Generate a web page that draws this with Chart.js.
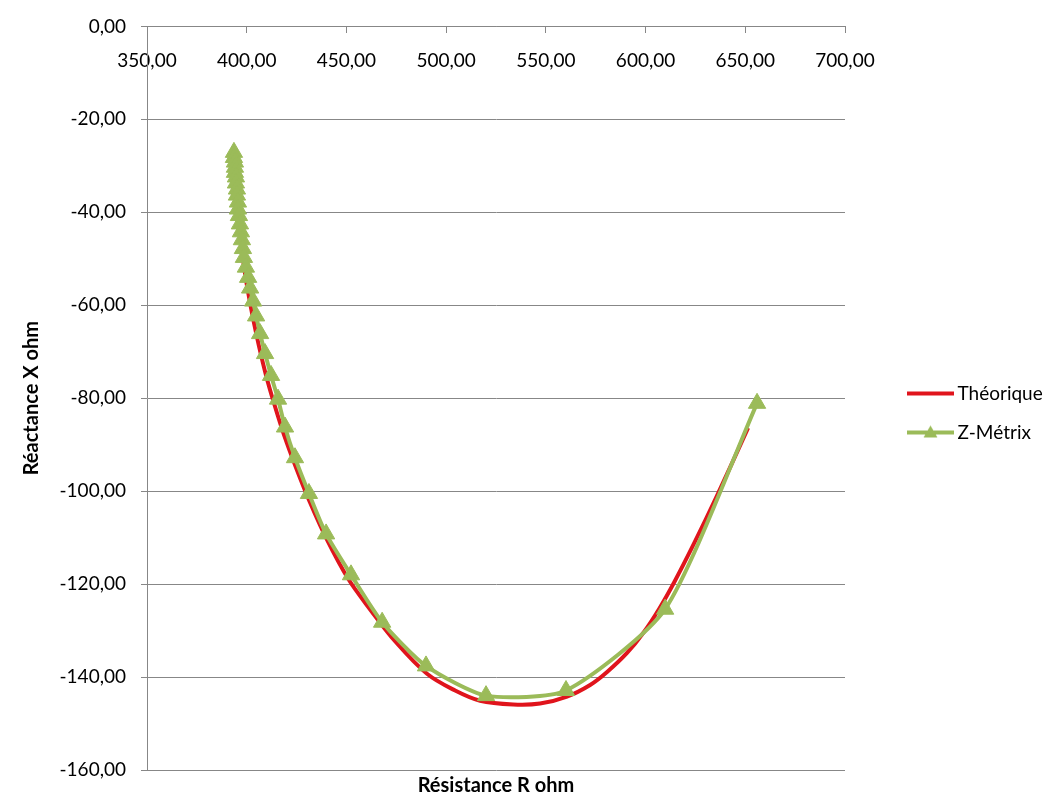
<!DOCTYPE html>
<html>
<head>
<meta charset="utf-8">
<script src="https://cdn.jsdelivr.net/npm/chart.js@4/dist/chart.umd.min.js"></script>
<style>
  html, body { margin: 0; padding: 0; background: #ffffff; }
  #wrap { width: 1062px; height: 798px; }
</style>
</head>
<body>
<div id="wrap"><canvas id="c" width="1062" height="798"></canvas></div>
<script>
// ---- Data ----
const seriesNames = ['Théorique', 'Z-Métrix'];

// Théorique : résistance R (ohm) et réactance X (ohm)
const theoR = [393.6, 394.6, 395.6, 397.1, 398.6, 400.7, 403.2, 406.2, 409.7, 413.7, 418.7, 424.7, 431.7, 440.3, 450.8, 461.8, 474.4, 490.4, 504.5, 517.0, 533.6, 547.1, 560.6, 572.2, 580.7, 590.7, 599.2, 607.0, 614.5, 624.5, 635.5, 651.4];
const theoX = [-26.7, -33.1, -39.5, -45.9, -51.6, -57.2, -62.9, -68.9, -75.1, -81.1, -87.9, -94.9, -102.4, -110.5, -118.8, -125.4, -132.3, -139.3, -142.9, -145.1, -145.9, -145.7, -144.2, -141.7, -138.9, -134.8, -130.3, -125.2, -119.5, -111.1, -101.3, -86.4];

// Z-Métrix : mesures
const zmR = [393.6, 393.6, 394.1, 394.1, 394.1, 394.6, 394.6, 395.1, 395.1, 395.6, 395.6, 396.1, 396.6, 397.1, 397.6, 398.1, 398.6, 399.6, 400.7, 401.7, 403.2, 404.7, 406.7, 409.2, 412.2, 415.7, 419.2, 424.2, 431.2, 439.8, 452.3, 467.9, 489.9, 520.0, 560.1, 609.8, 655.9];
const zmX = [-27.1, -28.2, -29.2, -30.3, -31.4, -32.4, -33.7, -35.0, -36.3, -37.8, -39.3, -40.7, -42.5, -44.2, -45.9, -47.8, -49.7, -51.8, -54.0, -56.3, -59.1, -62.3, -66.1, -70.4, -75.1, -80.2, -86.2, -92.8, -100.5, -109.2, -118.0, -128.2, -137.6, -144.0, -142.9, -125.4, -81.1];

// Tick values and labels
const xTickValues = [350, 400, 450, 500, 550, 600, 650, 700];
const xTickLabels = ['350,00', '400,00', '450,00', '500,00', '550,00', '600,00', '650,00', '700,00'];
const yTickValues = [0, -20, -40, -60, -80, -100, -120, -140, -160];
const yTickLabels = ['0,00', '-20,00', '-40,00', '-60,00', '-80,00', '-100,00', '-120,00', '-140,00', '-160,00'];

const xTitle = 'Résistance R ohm';
const yTitle = 'Réactance X ohm';

// ---- Styles ----
const RED = '#e0141c';
const GREEN = '#9bbb59';
const GRID = '#878787';
const FONT = 'Lato';
const LEG_FONT = 19;

Chart.defaults.font.family = FONT;
Chart.defaults.font.size = 19;
Chart.defaults.color = '#000000';

function toPoints(xs, ys) { return xs.map((v, i) => ({ x: v, y: ys[i] })); }
function lookup(values, labels) {
  return (v) => { const i = values.indexOf(v); return i >= 0 ? labels[i] : ''; };
}

// Legend icons (line, and line + triangle)
const ICON_W = 95, ICON_H = 22, LINE_FROM = 48;
function makeIcon(color, withTriangle) {
  const cv = document.createElement('canvas');
  cv.width = ICON_W; cv.height = ICON_H;
  const g = cv.getContext('2d');
  g.strokeStyle = color; g.lineWidth = 4;
  g.beginPath(); g.moveTo(LINE_FROM, ICON_H / 2); g.lineTo(ICON_W, ICON_H / 2); g.stroke();
  if (withTriangle) {
    const cx = (LINE_FROM + ICON_W) / 2, cy = ICON_H / 2 + 1, r = 8;
    g.fillStyle = color;
    g.beginPath();
    g.moveTo(cx, cy - r);
    g.lineTo(cx + r * 0.866, cy + r * 0.5);
    g.lineTo(cx - r * 0.866, cy + r * 0.5);
    g.closePath(); g.fill();
  }
  return cv;
}
const legendIcons = [makeIcon(RED, false), makeIcon(GREEN, true)];

// legend sizing so that the plot area ends where the reference's does
const meas = document.createElement('canvas').getContext('2d');
meas.font = 'normal ' + LEG_FONT + 'px ' + FONT;
const textW = Math.max(...seriesNames.map(s => meas.measureText(s).width));
const LEG_PAD = 20, BOX_W = 83;
const legendWidth = LEG_PAD + BOX_W + LEG_FONT / 2 + textW + 10;
const padRight = Math.max(0, 1062 - 845 - legendWidth);

new Chart(document.getElementById('c'), {
  type: 'scatter',
  data: {
    datasets: [
      {
        label: seriesNames[0],
        data: toPoints(theoR, theoX),
        xAxisID: 'x', yAxisID: 'y',
        showLine: true,
        borderColor: RED,
        backgroundColor: RED,
        borderWidth: 4,
        pointRadius: 0,
        pointHoverRadius: 0,
        tension: 0.35,
        order: 1
      },
      {
        label: seriesNames[1],
        data: toPoints(zmR, zmX),
        xAxisID: 'x', yAxisID: 'y',
        showLine: true,
        borderColor: GREEN,
        backgroundColor: GREEN,
        borderWidth: 4,
        pointStyle: 'triangle',
        pointRadius: 10,
        pointBackgroundColor: GREEN,
        pointBorderColor: GREEN,
        pointBorderWidth: 1,
        tension: 0.22,
        order: 0
      }
    ]
  },
  options: {
    responsive: false,
    animation: false,
    layout: { padding: { top: 20, right: padRight, bottom: 0, left: 0 } },
    scales: {
      x: {
        type: 'linear',
        position: { y: 0 },
        min: 350, max: 700,
        afterFit: (s) => { s.height = 0; },
        afterBuildTicks: (s) => { s.ticks = xTickValues.map(v => ({ value: v })); },
        ticks: { callback: lookup(xTickValues, xTickLabels), padding: 17, maxRotation: 0, autoSkip: false, color: '#000' },
        grid: { drawOnChartArea: false, drawTicks: true, tickLength: 6, color: GRID },
        border: { display: true, color: GRID, width: 1 }
      },
      x2: {
        type: 'linear',
        axis: 'x',
        position: 'bottom',
        min: 350, max: 700,
        afterFit: (s) => { s.height = 28; },
        ticks: { display: false },
        grid: { display: false, drawTicks: false },
        border: { display: false },
        title: { display: true, text: xTitle, font: { size: 20, weight: 'bold' }, padding: { top: 0, bottom: 0 }, color: '#000' }
      },
      y: {
        type: 'linear',
        position: 'left',
        min: -160, max: 0,
        afterFit: (s) => { s.width = 147; },
        afterBuildTicks: (s) => { s.ticks = yTickValues.map(v => ({ value: v })); },
        ticks: { callback: lookup(yTickValues, yTickLabels), padding: 15, color: '#000' },
        grid: { color: GRID, lineWidth: 1, drawTicks: true, tickLength: 6 },
        border: { display: true, color: GRID, width: 1 },
        title: { display: true, text: yTitle, font: { size: 20, weight: 'bold' }, padding: { top: 20, bottom: 0 }, color: '#000' }
      }
    },
    plugins: {
      tooltip: { enabled: false },
      legend: {
        position: 'right',
        align: 'center',
        title: { display: true, text: '', font: { size: 5 }, padding: 1 },
        labels: {
          usePointStyle: true,
          pointStyleWidth: BOX_W,
          padding: LEG_PAD,
          color: '#000',
          font: { size: LEG_FONT },
          generateLabels: (chart) => chart.data.datasets.map((ds, i) => ({
            text: ds.label,
            pointStyle: legendIcons[i],
            fillStyle: ds.borderColor,
            strokeStyle: ds.borderColor,
            lineWidth: 0,
            hidden: !chart.isDatasetVisible(i),
            datasetIndex: i,
            fontColor: '#000'
          }))
        }
      }
    }
  }
});
</script>
</body>
</html>
